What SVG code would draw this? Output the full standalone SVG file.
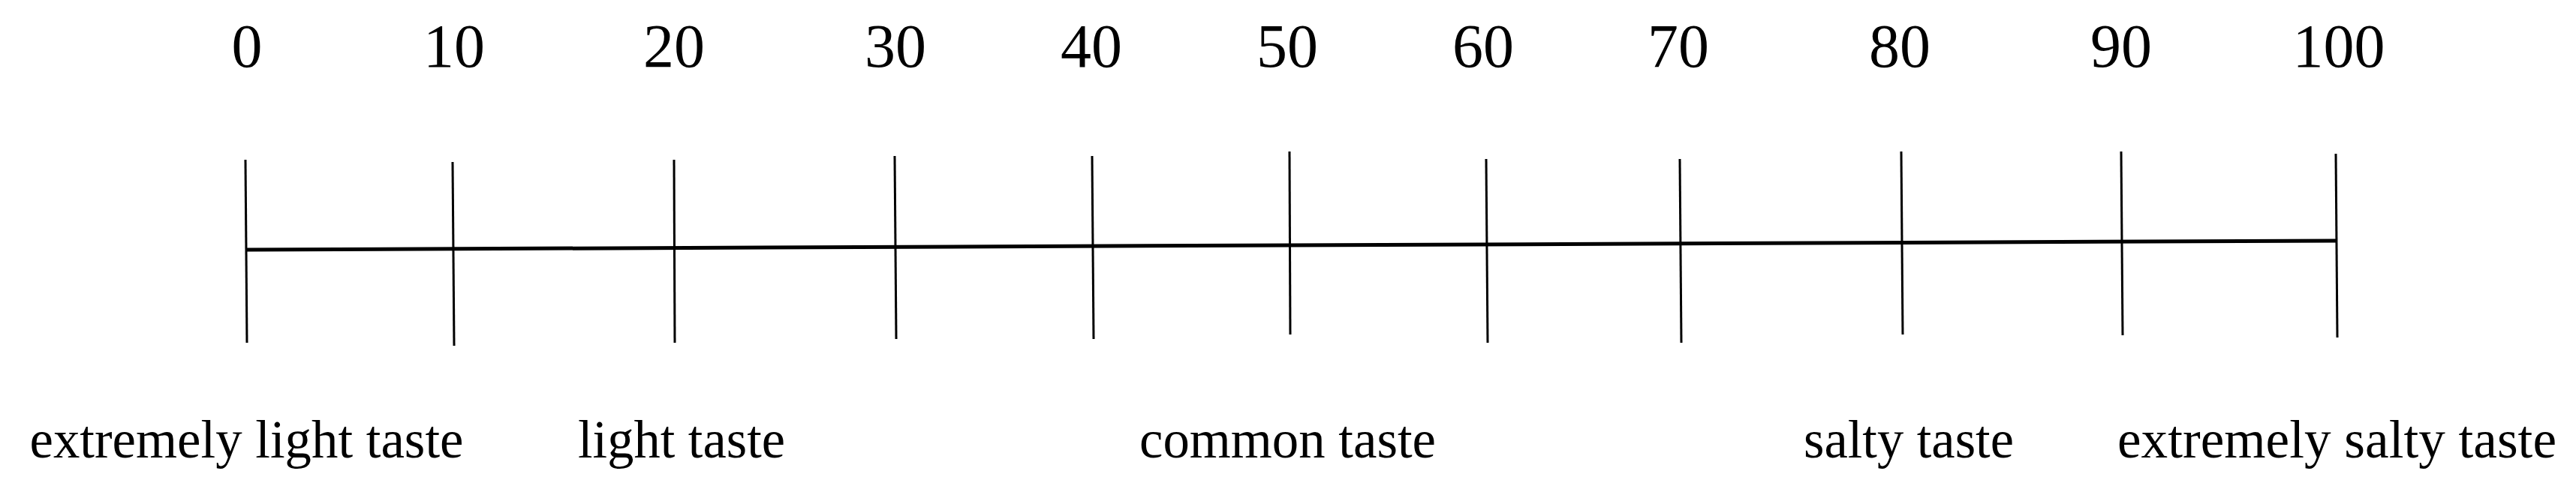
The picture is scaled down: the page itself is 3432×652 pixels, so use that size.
<svg xmlns="http://www.w3.org/2000/svg" width="3432" height="652" viewBox="0 0 3432 652">
<style>
.num{font-family:"Liberation Serif","Times New Roman",serif;font-size:82px;fill:#000;text-anchor:middle}
.lbl{font-family:"Liberation Serif","Times New Roman",serif;font-size:71px;fill:#000}
.tick{stroke:#000;stroke-width:3;fill:none}
.axis{stroke:#000;stroke-width:5;fill:none;stroke-linecap:butt}
</style>
<rect width="3432" height="652" fill="#fff"/>
<g id="connectors">
<line class="axis" x1="328" y1="333" x2="3113" y2="321"/>
</g>
<g id="tick0"><line class="tick" x1="327" y1="213" x2="329" y2="457"/><text class="num" x="329" y="89">0</text></g>
<g id="tick10"><line class="tick" x1="603" y1="216" x2="605" y2="461"/><text class="num" x="605" y="89">10</text></g>
<g id="tick20"><line class="tick" x1="898" y1="213" x2="899" y2="457"/><text class="num" x="898" y="89">20</text></g>
<g id="tick30"><line class="tick" x1="1192" y1="208" x2="1194" y2="452"/><text class="num" x="1193" y="89">30</text></g>
<g id="tick40"><line class="tick" x1="1455" y1="208" x2="1457" y2="452"/><text class="num" x="1454" y="89">40</text></g>
<g id="tick50"><line class="tick" x1="1718" y1="202" x2="1719" y2="446"/><text class="num" x="1715" y="89">50</text></g>
<g id="tick60"><line class="tick" x1="1980" y1="212" x2="1982" y2="457"/><text class="num" x="1976" y="89">60</text></g>
<g id="tick70"><line class="tick" x1="2238" y1="212" x2="2240" y2="457"/><text class="num" x="2236" y="89">70</text></g>
<g id="tick80"><line class="tick" x1="2533" y1="202" x2="2535" y2="446"/><text class="num" x="2531" y="89">80</text></g>
<g id="tick90"><line class="tick" x1="2826" y1="202" x2="2828" y2="447"/><text class="num" x="2826" y="89">90</text></g>
<g id="tick100"><line class="tick" x1="3112" y1="205" x2="3114" y2="450"/><text class="num" x="3116" y="89">100</text></g>
<g id="labels">
<text class="lbl" x="39.5" y="610" textLength="578" lengthAdjust="spacingAndGlyphs">extremely light taste</text>
<text class="lbl" x="770" y="610" textLength="276" lengthAdjust="spacingAndGlyphs">light taste</text>
<text class="lbl" x="1518" y="610" textLength="395" lengthAdjust="spacingAndGlyphs">common taste</text>
<text class="lbl" x="2403" y="610" textLength="280" lengthAdjust="spacingAndGlyphs">salty taste</text>
<text class="lbl" x="2821" y="610" textLength="585" lengthAdjust="spacingAndGlyphs">extremely salty taste</text>
</g>
</svg>
